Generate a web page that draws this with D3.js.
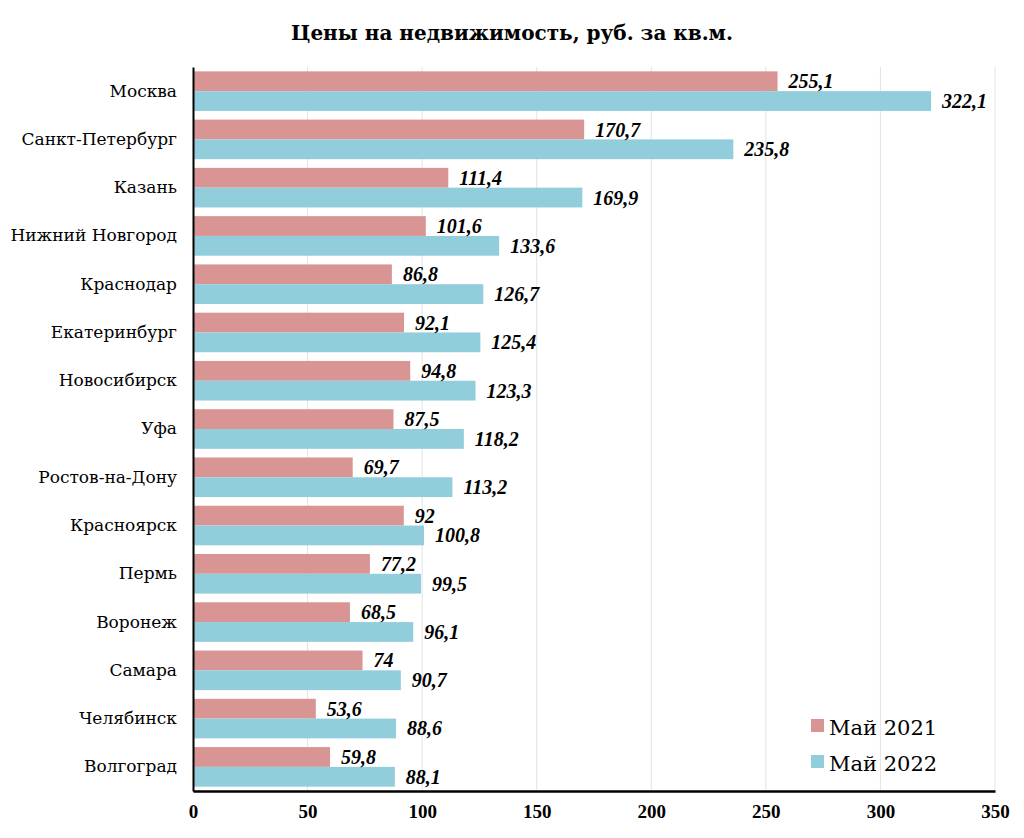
<!DOCTYPE html>
<html><head><meta charset="utf-8">
<script src="https://cdn.jsdelivr.net/npm/d3@7"></script>
<style>
body{margin:0;background:#fff;}
svg{display:block;}
</style></head>
<body>
<svg id="chart" width="1024" height="838"></svg>
<script>
const title = "Цены на недвижимость, руб. за кв.м.";
const cities = ["Москва","Санкт-Петербург","Казань","Нижний Новгород","Краснодар","Екатеринбург","Новосибирск","Уфа","Ростов-на-Дону","Красноярск","Пермь","Воронеж","Самара","Челябинск","Волгоград"];
const seriesNames = ["Май 2021","Май 2022"];
const may2021 = [255.1,170.7,111.4,101.6,86.8,92.1,94.8,87.5,69.7,92,77.2,68.5,74,53.6,59.8];
const may2022 = [322.1,235.8,169.9,133.6,126.7,125.4,123.3,118.2,113.2,100.8,99.5,96.1,90.7,88.6,88.1];
const xTicks = [0,50,100,150,200,250,300,350];
const colors = ["#D99594","#92CDDC"];

const svg = d3.select("#chart");
const mLeft = 193, mRight = 995, mTop = 67, mBottom = 791;
const ff = '"Liberation Serif","Times New Roman",serif';
const fc = '"DejaVu Serif",serif';

const x = d3.scaleLinear().domain([0,350]).range([mLeft,mRight]);
const y = d3.scaleBand().domain(cities).range([mTop,mBottom]).paddingInner(0.18).paddingOuter(0.09);
const ys = d3.scaleBand().domain(seriesNames).range([0,y.bandwidth()]);

// title
svg.append("text").attr("x",512).attr("y",40).attr("text-anchor","middle")
  .attr("font-size",20).attr("font-weight","bold").attr("font-family",fc).text(title);

// gridlines
svg.append("g").selectAll("line").data(xTicks.filter(d=>d>0)).join("line")
  .attr("x1",d=>x(d)).attr("x2",d=>x(d)).attr("y1",mTop).attr("y2",mBottom)
  .attr("stroke","#e3e3e3").attr("stroke-width",1);

const rows = cities.map((c,i)=>({city:c, vals:[may2021[i],may2022[i]]}));
const fmt = v => String(v).replace(".",",");

const g = svg.append("g").selectAll("g").data(rows).join("g")
  .attr("transform",d=>`translate(0,${y(d.city)})`);
g.selectAll("rect").data(d=>d.vals.map((v,j)=>({v,s:seriesNames[j],j}))).join("rect")
  .attr("x",x(0)).attr("y",d=>ys(d.s)).attr("width",d=>x(d.v)-x(0)).attr("height",ys.bandwidth())
  .attr("fill",d=>colors[d.j]);
g.selectAll("text.val").data(d=>d.vals.map((v,j)=>({v,s:seriesNames[j],j}))).join("text")
  .attr("class","val").attr("x",d=>x(d.v)+11).attr("y",d=>ys(d.s)+ys.bandwidth()/2).attr("dy","0.35em")
  .attr("font-size",20).attr("font-weight","bold").attr("font-style","italic").attr("font-family",ff).text(d=>fmt(d.v));

// category axis
const yAxis = svg.append("g").attr("transform",`translate(${mLeft},0)`)
  .call(d3.axisLeft(y).tickSize(0).tickPadding(16));
yAxis.select(".domain").attr("stroke","#000").attr("stroke-width",2);
yAxis.selectAll("text").attr("font-size",17).attr("font-family",fc).attr("fill","#000");

// x axis
const xAxis = svg.append("g").attr("transform",`translate(0,${mBottom})`)
  .call(d3.axisBottom(x).tickValues(xTicks).tickSize(0).tickPadding(14));
xAxis.select(".domain").attr("stroke","#000").attr("stroke-width",2.5);
xAxis.selectAll("text").attr("font-size",19).attr("font-weight","bold").attr("font-family",ff).attr("fill","#000");

// legend
const leg = svg.append("g").selectAll("g").data(seriesNames).join("g")
  .attr("transform",(d,i)=>`translate(811,${719+i*36})`);
leg.append("rect").attr("width",13).attr("height",13).attr("fill",(d,i)=>colors[i]);
leg.append("text").attr("x",18).attr("y",16).attr("font-size",21).attr("font-family",fc).text(d=>d);
</script>
</body></html>
